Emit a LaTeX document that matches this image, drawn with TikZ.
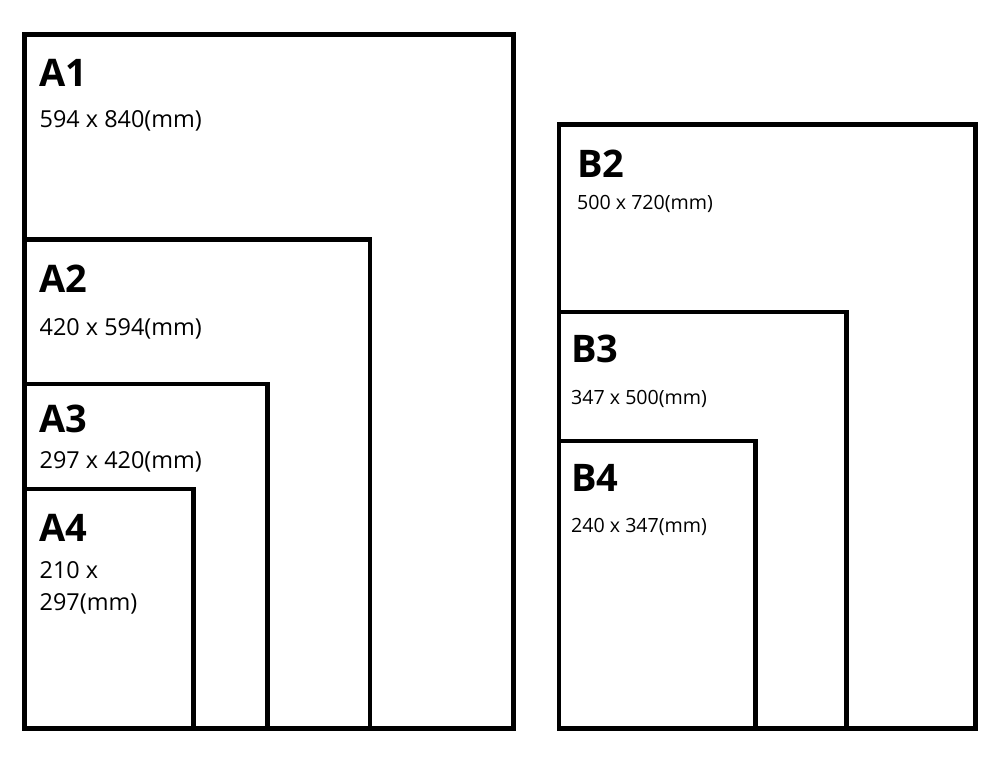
\documentclass[tikz,border=0pt]{standalone}
\usepackage{fontspec}
\setmainfont{Open Sans}
\begin{document}
\begin{tikzpicture}[x=1pt,y=-1pt,
  sheet/.style={draw=black,line width=4.6pt},
  ttl/.style={anchor=base west,inner sep=0pt,font=\fontsize{38}{40}\selectfont\bfseries},
  asub/.style={anchor=base west,inner sep=0pt,font=\fontsize{23.4}{27}\selectfont},
  bsub/.style={anchor=base west,inner sep=0pt,font=\fontsize{19.6}{23}\selectfont}]
\useasboundingbox[fill=white] (0,0) rectangle (1000,763);
% A series
\draw[sheet] (24.7,34.5) rectangle (513.5,728.5);
\draw[sheet] (24.7,239.7) rectangle (369.8,728.5);
\draw[sheet] (24.7,384) rectangle (267.5,728.5);
\draw[sheet] (24.7,489) rectangle (193.5,728.5);
% B series
\draw[sheet] (559,124.7) rectangle (975.5,728.5);
\draw[sheet] (559,312) rectangle (846.7,728.5);
\draw[sheet] (559,441) rectangle (755.5,728.5);
% labels
\node[ttl] (a1) at (39.5,86) {A1};
\node[asub] (a1s) at (39.5,127) {594 x 840(mm)};
\node[ttl] (a2) at (39.5,292) {A2};
\node[asub] (a2s) at (39.5,335) {420 x 594(mm)};
\node[ttl] (a3) at (39.5,432) {A3};
\node[asub] (a3s) at (39.5,468) {297 x 420(mm)};
\node[ttl] (a4) at (39.5,541) {A4};
\node[asub] (a4s1) at (39.5,578) {210 x};
\node[asub] (a4s2) at (39.5,610) {297(mm)};
\node[ttl] (b2) at (577,177) {B2};
\node[bsub] (b2s) at (577,209) {500 x 720(mm)};
\node[ttl] (b3) at (571,362) {B3};
\node[bsub] (b3s) at (571,404) {347 x 500(mm)};
\node[ttl] (b4) at (571,491) {B4};
\node[bsub] (b4s) at (571,532) {240 x 347(mm)};
\end{tikzpicture}
\end{document}
